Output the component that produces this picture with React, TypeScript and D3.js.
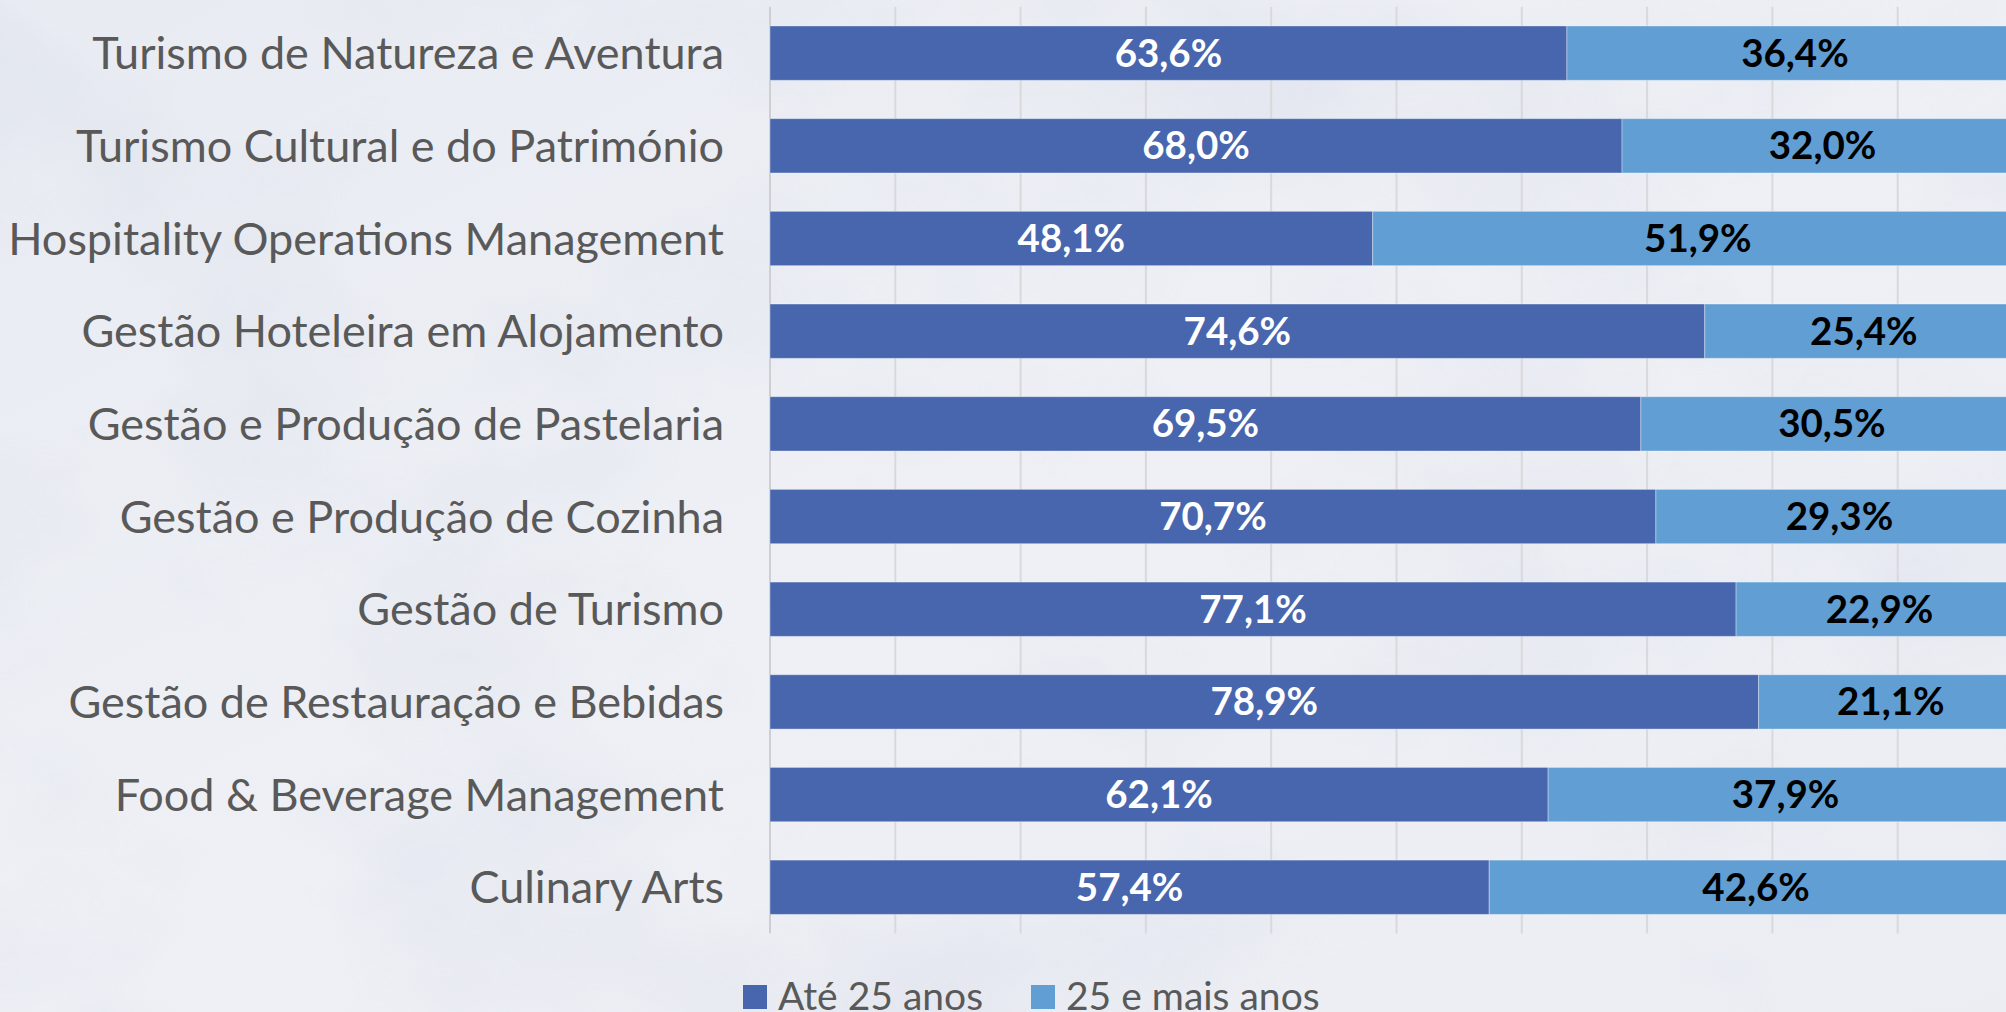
import React from "react";
import * as d3 from "d3";

const categories = [
  "Turismo de Natureza e Aventura",
  "Turismo Cultural e do Património",
  "Hospitality Operations Management",
  "Gestão Hoteleira em Alojamento",
  "Gestão e Produção de Pastelaria",
  "Gestão e Produção de Cozinha",
  "Gestão de Turismo",
  "Gestão de Restauração e Bebidas",
  "Food & Beverage Management",
  "Culinary Arts",
];
const ate25 = [63.6, 68.0, 48.1, 74.6, 69.5, 70.7, 77.1, 78.9, 62.1, 57.4];
const mais25 = [36.4, 32.0, 51.9, 25.4, 30.5, 29.3, 22.9, 21.1, 37.9, 42.6];
const seriesNames = ["Até 25 anos", "25 e mais anos"];
const gridTicks = [0, 10, 20, 30, 40, 50, 60, 70, 80, 90, 100];

const W = 2006;
const H = 1012;
const DARK = "#4866AE";
const LIGHT = "#619ED3";
const TEXT = "#595959";
const FONT = "Lato, 'Open Sans', sans-serif";

const locale = d3.formatLocale({ decimal: ",", thousands: ".", grouping: [3], currency: ["", "€"] });
const fmt = locale.format(".1f");

export default function App() {
  const x = d3.scaleLinear().domain([0, 100]).range([770, 2023]);
  const y = d3
    .scaleBand<string>()
    .domain(categories)
    .range([6.8, 933.6])
    .paddingInner(0.414)
    .paddingOuter(0.207);
  const bw = y.bandwidth();

  const stack = d3
    .stack<number>()
    .keys(["a", "b"])
    .value((i, k) => (k === "a" ? ate25[i] : mais25[i]));
  const stacked = stack(categories.map((_, i) => i));
  const colors = [DARK, LIGHT];
  const labelColors = ["#ffffff", "#000000"];

  return (
    <svg
      width={W}
      height={H}
      style={{ position: "absolute", left: 0, top: 0, display: "block" }}
    >
      <defs>
        <filter id="clouds" x="0" y="0" width="100%" height="100%">
          <feTurbulence type="fractalNoise" baseFrequency="0.003 0.0045" numOctaves="5" seed="7" result="n" />
          <feColorMatrix
            in="n"
            type="matrix"
            values="0 0 0 0 0.55  0 0 0 0 0.6  0 0 0 0 0.72  0 0 0 -1.8 1.0"
          />
        </filter>
        <linearGradient id="bgGrad" x1="0" y1="0" x2="1" y2="1">
          <stop offset="0" stopColor="#E8EBF2" />
          <stop offset="0.5" stopColor="#EEF0F5" />
          <stop offset="1" stopColor="#EBEDF3" />
        </linearGradient>
      </defs>
      <rect x={0} y={0} width={W} height={H} fill="url(#bgGrad)" />
      <rect x={0} y={0} width={W} height={H} filter="url(#clouds)" opacity={0.26} />

      {/* gridlines */}
      {gridTicks.map((t) => (
        <line
          key={t}
          x1={x(t)}
          x2={x(t)}
          y1={6.8}
          y2={933.6}
          stroke={t === 0 ? "#CFCFD3" : "#D9D9DC"}
          strokeWidth={2}
        />
      ))}

      {/* bars */}
      {stacked.map((s, si) => (
        <g key={si}>
          {s.map((d, i) => (
            <rect
              key={i}
              x={x(d[0])}
              y={y(categories[i])}
              width={x(d[1]) - x(d[0])}
              height={bw}
              fill={colors[si]}
              stroke="#ffffff"
              strokeOpacity={0.35}
              strokeWidth={1}
            />
          ))}
        </g>
      ))}

      {/* data labels */}
      {stacked.map((s, si) => (
        <g key={"l" + si}>
          {s.map((d, i) => (
            <text
              key={i}
              x={(x(d[0]) + x(d[1])) / 2}
              y={(y(categories[i]) as number) + bw / 2}
              dy="0.35em"
              textAnchor="middle"
              fontFamily={FONT}
              fontWeight={700}
              fontSize={38.5}
              fill={labelColors[si]}
            >
              {fmt(d[1] - d[0]) + "%"}
            </text>
          ))}
        </g>
      ))}

      {/* category labels */}
      {categories.map((c) => (
        <text
          key={c}
          x={724}
          y={(y(c) as number) + bw / 2}
          dy="0.36em"
          textAnchor="end"
          fontFamily={FONT}
          fontSize={45}
          fill={TEXT}
        >
          {c}
        </text>
      ))}

      {/* legend */}
      {seriesNames.map((n, i) => {
        const lx = [743, 1031][i];
        return (
          <g key={n}>
            <rect x={lx} y={985} width={24} height={24} fill={colors[i]} />
            <text
              x={lx + 35}
              y={1010}
              fontFamily={FONT}
              fontSize={39}
              fill={TEXT}
            >
              {n}
            </text>
          </g>
        );
      })}
    </svg>
  );
}
